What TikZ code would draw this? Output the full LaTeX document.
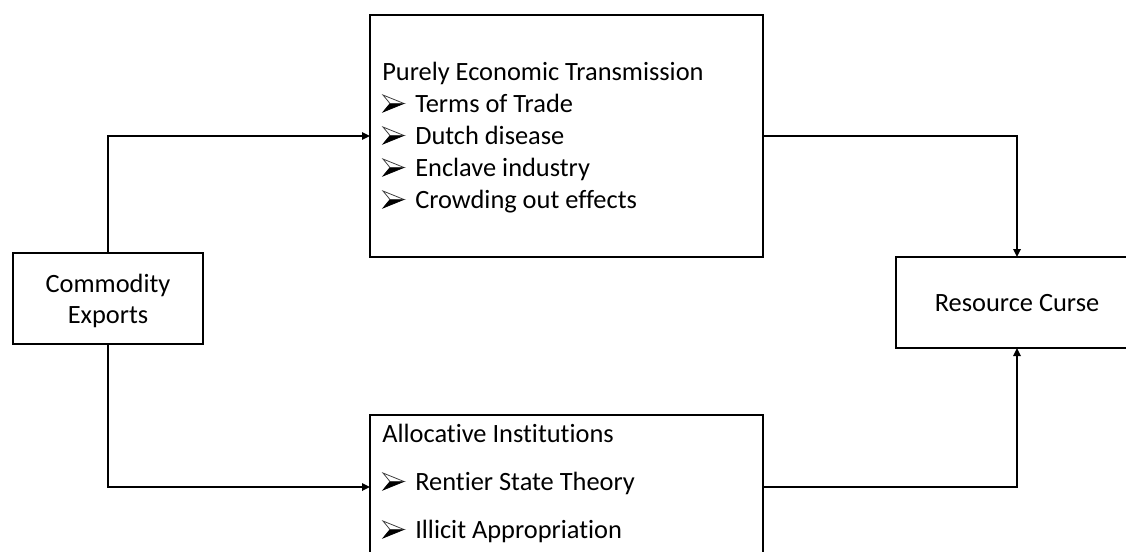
\documentclass[tikz,border=0pt]{standalone}
\usepackage{fontspec}
\setmainfont{Carlito}[Ligatures=NoCommon]
\usetikzlibrary{arrows.meta}
\begin{document}
\begin{tikzpicture}[x=0.75pt,y=-0.75pt,
  box/.style={draw=black, line width=1.4pt, inner sep=0pt, outer sep=0pt},
  lbl/.style={inner sep=0pt, anchor=base west, font=\fontsize{19.8}{24}\selectfont},
  ctr/.style={inner sep=0pt, anchor=base, font=\fontsize{19.8}{24}\selectfont},
  conn/.style={line width=2pt, -{Triangle[length=6pt,width=5.5pt]}},
  pics/arrowbul/.style={code={
    \fill[black] (8,-8.5) -- (22,-8.5) -- (1,0) -- cycle;
    \draw[line width=0.6pt, black!75, line join=miter] (1,-17) -- (22,-8.5) -- (8,-8.5) -- cycle;
    \draw[line width=0.5pt, black, line join=miter] (8,-8.5) -- (1,0) -- (22,-8.5);
  }}]
\useasboundingbox (0,0) rectangle (1126,551);
% boxes
\node[box, minimum width=142.5pt, minimum height=68.25pt] (com) at (108,298.5) {};
\node[box, minimum width=294.75pt, minimum height=181.5pt] (top) at (566.5,136) {};
\node[box, minimum width=294.75pt, minimum height=108pt] (bot) at (566.5,487) {};
\node[box, minimum width=181.5pt, minimum height=68.25pt] (rc) at (1017,302.5) {};
% texts
\node[ctr] (c1) at (108,292) {Commodity};
\node[ctr] (c2) at (108,323.5) {Exports};
\node[ctr] (r1) at (1017,311) {Resource Curse};
\node[lbl] (t0) at (382,80) {Purely Economic Transmission};
\pic at (382,112) {arrowbul};
\node[lbl] (t1) at (415,112) {Terms of Trade};
\pic at (382,144) {arrowbul};
\node[lbl] (t2) at (415,144) {Dutch disease};
\pic at (382,176) {arrowbul};
\node[lbl] (t3) at (415,176) {Enclave industry};
\pic at (382,208) {arrowbul};
\node[lbl] (t4) at (415,208) {Crowding out effects};
\node[lbl] (a0) at (382,442) {Allocative Institutions};
\pic at (382,490) {arrowbul};
\node[lbl] (a1) at (415,490) {Rentier State Theory};
\pic at (382,538) {arrowbul};
\node[lbl] (a2) at (415,538) {Illicit Appropriation};
% connectors
\draw[conn] (com.north) |- (top.west);
\draw[conn] (com.south) |- (bot.west);
\draw[conn] (top.east) -| (rc.north);
\draw[conn] (bot.east) -| (rc.south);
\end{tikzpicture}
\end{document}
